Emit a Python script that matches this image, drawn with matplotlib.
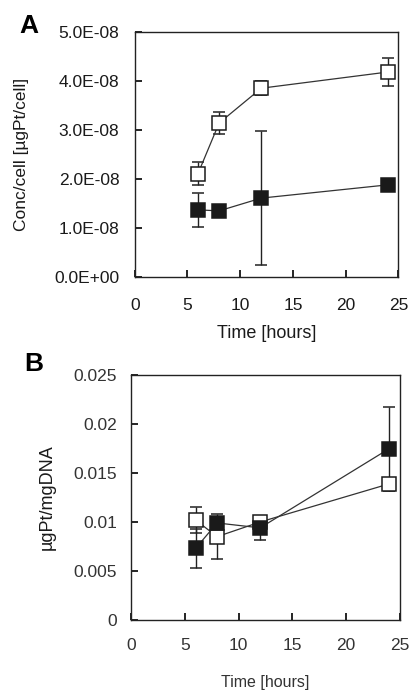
"""Two-panel Pt uptake chart: per-cell (A) and per-DNA (B) vs time."""
import matplotlib
matplotlib.use("Agg")
import matplotlib.pyplot as plt

plt.rcParams["font.family"] = ["Liberation Sans", "DejaVu Sans"]

# time points (hours)
time_h = [6, 8, 12, 24]

# panel A: conc/cell [ugPt/cell]
a_open = [2.11e-8, 3.14e-8, 3.85e-8, 4.18e-8]
a_open_err = [0.23e-8, 0.22e-8, 0.14e-8, 0.28e-8]
a_filled = [1.37e-8, 1.35e-8, 1.61e-8, 1.88e-8]
a_filled_err = [0.34e-8, 0.0, 1.37e-8, 0.0]
a_yticks = [0.0, 1e-8, 2e-8, 3e-8, 4e-8, 5e-8]
a_yticklabels = ["0.0E+00", "1.0E-08", "2.0E-08", "3.0E-08", "4.0E-08", "5.0E-08"]

# panel B: ugPt/mgDNA
b_open = [0.0102, 0.0085, 0.0100, 0.0139]
b_open_err = [0.0013, 0.0023, 0.0004, 0.0005]
b_filled = [0.0073, 0.0099, 0.0094, 0.0175]
b_filled_err = [0.0020, 0.0004, 0.0012, 0.0043]
b_yticks = [0, 0.005, 0.01, 0.015, 0.02, 0.025]
b_yticklabels = ["0", "0.005", "0.01", "0.015", "0.02", "0.025"]

x_ticks = [0, 5, 10, 15, 20, 25]


def draw_series(ax, y, err, filled):
    face = "#1a1a1a" if filled else "white"
    size = 10.5 if filled else 9.5
    ax.errorbar(time_h, y, yerr=err, color="#333333", lw=0.9,
                marker="s", ms=size, mfc=face, mec="#1a1a1a", mew=1.1,
                ecolor="#222222", elinewidth=1.0, capsize=4, capthick=1.0,
                zorder=3)


def style_axes(ax, yticks, ylabels, ylim, tick_size, tick_color, xpad, ypad):
    ax.set_xlim(0, 25)
    ax.set_ylim(*ylim)
    ax.set_xticks(x_ticks)
    ax.set_yticks(yticks)
    ax.set_yticklabels(ylabels)
    ax.tick_params(direction="in", length=5, width=1.2,
                   labelsize=tick_size, labelcolor=tick_color)
    ax.tick_params(axis="x", pad=xpad)
    ax.tick_params(axis="y", pad=ypad)
    for s in ax.spines.values():
        s.set_linewidth(1.0)
        s.set_color("#222222")


fig = plt.figure(figsize=(4.12, 6.91), dpi=100)

ax_a = fig.add_axes([0.327, 0.599, 0.640, 0.355])
draw_series(ax_a, a_open, a_open_err, False)
draw_series(ax_a, a_filled, a_filled_err, True)
style_axes(ax_a, a_yticks, a_yticklabels, (0, 5e-8), 12.5, "#1a1a1a", 15, 11)
ax_a.set_xlabel("Time [hours]", fontsize=13, labelpad=9, color="#1a1a1a")
ax_a.set_ylabel("Conc/cell [µgPt/cell]", fontsize=12.5, color="#1a1a1a",
                labelpad=18)
fig.text(0.048, 0.980, "A", fontsize=19, fontweight="bold", va="top")

ax_b = fig.add_axes([0.318, 0.103, 0.653, 0.354])
draw_series(ax_b, b_open, b_open_err, False)
draw_series(ax_b, b_filled, b_filled_err, True)
style_axes(ax_b, b_yticks, b_yticklabels, (0, 0.025), 12.5, "#333333", 13, 10)
ax_b.set_xlabel("Time [hours]", fontsize=11.5, labelpad=16, color="#333333")
ax_b.set_ylabel("µgPt/mgDNA", fontsize=13, color="#1a1a1a", labelpad=13)
fig.text(0.058, 0.491, "B", fontsize=19, fontweight="bold", va="top")

fig.savefig("out.png", dpi=100)
